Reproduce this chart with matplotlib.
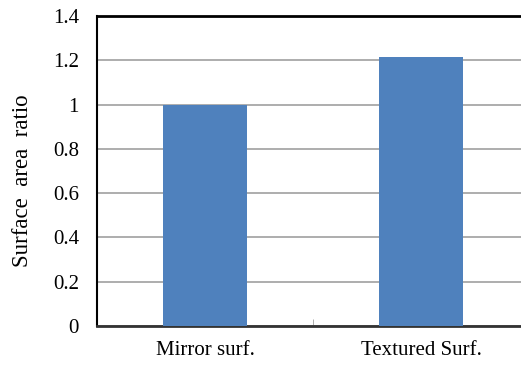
import numpy as np
import matplotlib.pyplot as plt

categories = ["Mirror surf.", "Textured Surf."]
ratio = [1.0, 1.217]
yticks = [0, 0.2, 0.4, 0.6, 0.8, 1, 1.2, 1.4]
ylabels = ["0", "0.2", "0.4", "0.6", "0.8", "1", "1.2", "1.4"]

plt.rcParams['font.family'] = ['Liberation Serif', 'DejaVu Serif']

fig = plt.figure(figsize=(5.21, 3.65), dpi=100)
ax = fig.add_axes([97 / 521, 1 - 326 / 365, 424 / 521, 310 / 365])

x = np.arange(len(categories))
ax.bar(x, ratio, width=0.39, color="#4F81BD", zorder=3)

ax.set_ylim(0, 1.4)
ax.set_xlim(-0.5, 1.463)
ax.set_yticks(yticks)
ax.set_yticklabels(ylabels, fontsize=15)
ax.set_xticks(x)
ax.set_xticklabels(categories, fontsize=15)
ax.set_xticks([0.5], minor=True)
ax.tick_params(axis='x', which='major', length=0, pad=11)
ax.tick_params(axis='x', which='minor', direction='in', length=5, color='#a0a0a0')
ax.tick_params(axis='y', length=0, pad=13)

ax.grid(axis='y', color='#a0a0a0', linewidth=1.2, zorder=0)
ax.set_axisbelow(True)

ax.spines['right'].set_visible(False)
ax.spines['top'].set_linewidth(2)
ax.spines['top'].set_color('black')
ax.spines['left'].set_linewidth(1.5)
ax.spines['left'].set_color('black')
ax.spines['bottom'].set_linewidth(2)
ax.spines['bottom'].set_color('#333333')

ax.set_ylabel("Surface  area  ratio", fontsize=16.5)
ax.yaxis.set_label_coords(-0.15, 0.47)

fig.savefig("out.png", dpi=100)
